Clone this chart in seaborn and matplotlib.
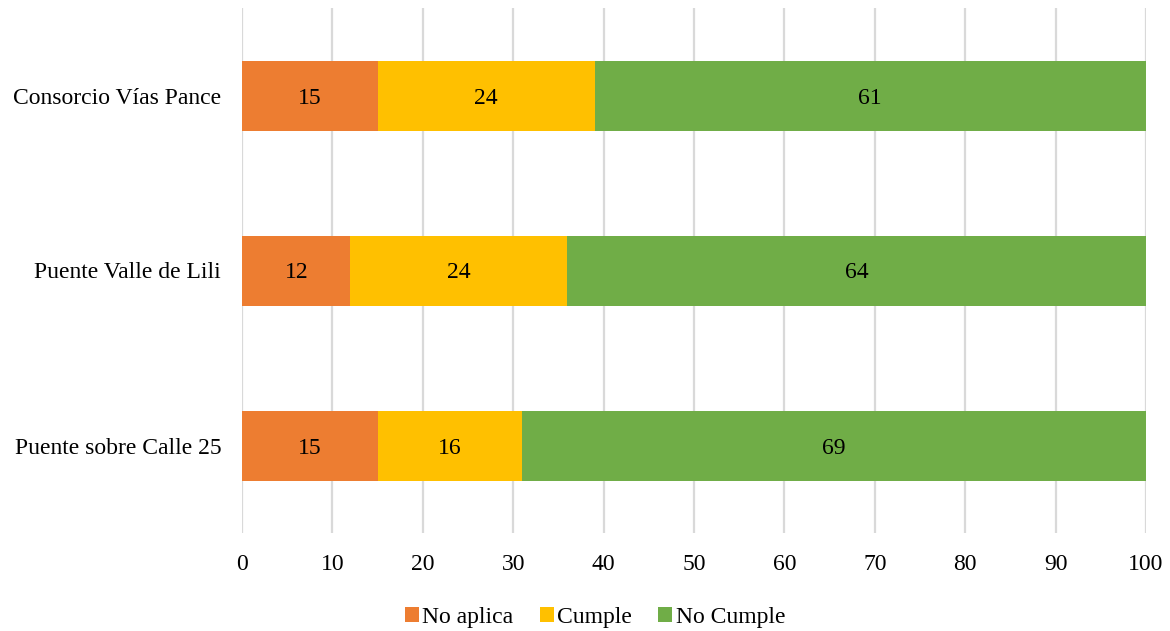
import matplotlib
matplotlib.use("Agg")
import matplotlib.pyplot as plt
import seaborn as sns
import pandas as pd
import numpy as np
from matplotlib.patches import Patch

sns.set_theme(style="white")
plt.rcParams["font.family"] = ["Liberation Serif", "DejaVu Serif"]
plt.rcParams["text.color"] = "black"
plt.rcParams["xtick.color"] = "black"
plt.rcParams["ytick.color"] = "black"

categories = ["Consorcio Vías Pance", "Puente Valle de Lili", "Puente sobre Calle 25"]
no_aplica = [15, 12, 15]
cumple = [24, 24, 16]
no_cumple = [61, 64, 69]
series_names = ["No aplica", "Cumple", "No Cumple"]
colors = ["#ED7D31", "#FFC000", "#70AD47"]
xticks = [0, 10, 20, 30, 40, 50, 60, 70, 80, 90, 100]

df = pd.DataFrame({
    "categoria": categories,
    "No aplica": no_aplica,
    "Cumple": cumple,
    "No Cumple": no_cumple,
})
layers = np.cumsum(df[series_names].to_numpy(), axis=1)

fig = plt.figure(figsize=(11.7, 6.31), dpi=100)
ax = fig.add_axes([242 / 1170, (631 - 533) / 631, (1146 - 242) / 1170, (533 - 8) / 631])

# stacked bars: draw cumulative totals from the outermost layer inwards
for i in reversed(range(len(series_names))):
    sns.barplot(x=layers[:, i], y=df["categoria"], orient="h", color=colors[i],
                width=0.4, saturation=1, ax=ax, linewidth=0, zorder=3)

# value labels centred in each segment
for r in range(len(categories)):
    start = 0
    for i, name in enumerate(series_names):
        v = df[name].iloc[r]
        ax.text(start + v / 2, r, f"{v}", ha="center", va="center_baseline",
                fontsize=17, color="black", zorder=4)
        start += v

ax.set_xlim(0, 100)
ax.set_ylim(2.5, -0.5)
ax.set_xticks(xticks)
ax.set_xticklabels([str(t) for t in xticks], fontsize=17)
ax.tick_params(axis="y", labelsize=17, length=0, pad=15)
ax.tick_params(axis="x", length=0, pad=15)
ax.set_xlabel("")
ax.set_ylabel("")
ax.grid(axis="x", color="#d9d9d9", linewidth=1.6, zorder=0)
ax.set_axisbelow(True)
for s in ax.spines.values():
    s.set_visible(False)

handles = [Patch(facecolor=c, edgecolor="none", label=n) for c, n in zip(colors, series_names)]
fig.legend(handles=handles, loc="center", bbox_to_anchor=(595 / 1170, 1 - 617 / 631),
           ncol=3, frameon=False, fontsize=17, handlelength=0.6, handleheight=0.6,
           handletextpad=0.15, columnspacing=1.1)

fig.savefig("out.png", dpi=100)
